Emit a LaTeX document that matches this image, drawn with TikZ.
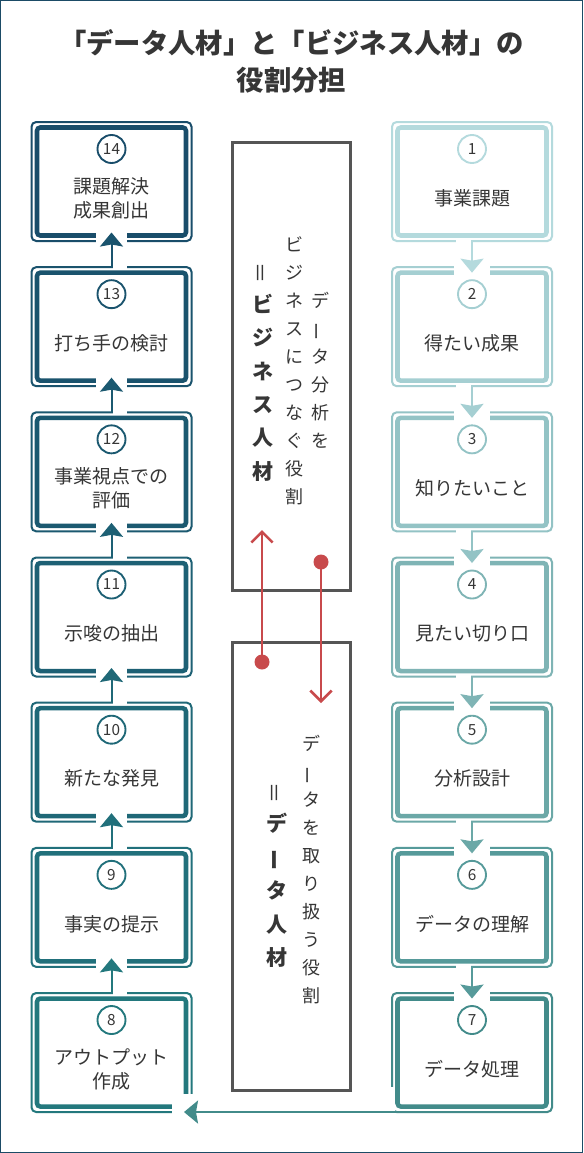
\documentclass[tikz,border=0pt]{standalone}
\usepackage{fontspec}
\setmainfont{Noto Sans CJK JP}
\usetikzlibrary{arrows.meta,calc}
\definecolor{b1}{HTML}{B4DADD}
\definecolor{b2}{HTML}{A5CFD2}
\definecolor{b3}{HTML}{93C3C5}
\definecolor{b4}{HTML}{7FB4B5}
\definecolor{b5}{HTML}{6BA8A7}
\definecolor{b6}{HTML}{569A9A}
\definecolor{b7}{HTML}{428B8A}
\definecolor{b8}{HTML}{23787D}
\definecolor{b9}{HTML}{21707B}
\definecolor{b10}{HTML}{1F6877}
\definecolor{b11}{HTML}{1D6074}
\definecolor{b12}{HTML}{1B5970}
\definecolor{b13}{HTML}{1A536D}
\definecolor{b14}{HTML}{194D6A}
\definecolor{frame}{HTML}{1B4B66}
\definecolor{midgray}{HTML}{555555}
\definecolor{txt}{HTML}{363636}
\definecolor{rd}{HTML}{C84A4C}
\newcommand\vrot[1]{\rotatebox[origin=c]{90}{#1}}
\tikzset{
  outerbox/.style={draw, line width=1.5pt, rounded corners=3.5pt, minimum width=120pt, minimum height=89.25pt, inner sep=0pt, outer sep=0pt},
  innerbox/.style={draw, line width=3.4pt, rounded corners=2.5pt, minimum width=111.75pt, minimum height=81pt, inner sep=0pt, outer sep=0pt},
  numc/.style={circle, line width=1.4pt, fill=white, minimum size=21pt, inner sep=0pt, text=txt, font=\fontsize{11.5pt}{12pt}\selectfont},
  lab/.style={align=center, inner sep=0pt, text=txt, font=\fontsize{14.25pt}{18pt}\selectfont},
  conn/.style={line width=1.5pt, -{Stealth[length=10.5pt,width=17.25pt,inset=1.5pt]}},
  midbox/.style={draw=midgray, line width=2.25pt, minimum width=88.5pt, minimum height=336pt, inner sep=0pt, outer sep=0pt},
  vtxt/.style={align=center, inner sep=0pt, text=txt, font=\fontsize{13.5pt}{21pt}\selectfont},
  vbold/.style={align=center, inner sep=0pt, text=txt, font=\bfseries\fontsize{15.75pt}{25.1pt}\selectfont},
  titletxt/.style={align=center, inner sep=0pt, text=txt, font=\bfseries\fontsize{20.5pt}{27.75pt}\selectfont},
  reddot/.style={circle, fill=rd, minimum size=11.25pt, inner sep=0pt, outer sep=0pt},
  redline/.style={draw=rd, line width=1.9pt, -{Straight Barb[length=8pt,width=16pt]}}
}
\begin{document}
\begin{tikzpicture}[x=0.75pt,y=-0.75pt]
\useasboundingbox (0,0) rectangle (583,1153);
\fill[white] (0,0) rectangle (583,1153);
\draw[frame, line width=0.75pt] (0.5,0.5) rectangle (582.5,1152.5);

\node[titletxt] (title) at (291.5,61.5) {「データ人材」と「ビジネス人材」の\\役割分担};

% right column
\foreach \r/\n/\lab in {1/1/{事業課題},2/2/{得たい成果},3/3/{知りたいこと},4/4/{見たい切り口},5/5/{分析設計},6/6/{データの理解},7/7/{データ処理}}{
  \pgfmathsetmacro\cy{122+145.17*(\r-1)+59.5}
  \node[outerbox, draw=b\n] (o\n) at (472,\cy) {};
  \node[innerbox, draw=b\n] (i\n) at (472,\cy) {};
  \node[numc, draw=b\n] (n\n) at ($(o\n.center)+(0,-32.5)$) {\n};
  \node[lab] (l\n) at ($(o\n.center)+(0,16.5)$) {\lab};
}
% left column
\foreach \r/\n/\lab in {1/14/{課題解決\\成果創出},2/13/{打ち手の検討},3/12/{事業視点での\\評価},4/11/{示唆の抽出},5/10/{新たな発見},6/9/{事実の提示},7/8/{アウトプット\\作成}}{
  \pgfmathsetmacro\cy{122+145.17*(\r-1)+59.5}
  \node[outerbox, draw=b\n] (o\n) at (111.5,\cy) {};
  \node[innerbox, draw=b\n] (i\n) at (111.5,\cy) {};
  \node[numc, draw=b\n] (n\n) at ($(o\n.center)+(0,-32.5)$) {\n};
  \node[lab] (l\n) at ($(o\n.center)+(0,16.5)$) {\lab};
}

% right connectors (downward)
\foreach \a/\b in {1/2,2/3,3/4,4/5,5/6,6/7}{
  \fill[white] ($(o\b.north)+(-18,-2)$) rectangle ($(o\b.north)+(18,9)$);
  \fill[white] ($(o\a.south)+(-16,-2)$) rectangle ($(o\a.south)+(-1,2)$);
  \draw[conn, draw=b\a, fill=b\a] (o\a.south) -- (i\b.north);
}
% left connectors (upward)
\foreach \a/\b in {8/9,9/10,10/11,11/12,12/13,13/14}{
  \fill[white] ($(o\b.south)+(-16,-9)$) rectangle ($(o\b.south)+(15,2)$);
  \fill[white] ($(o\a.north)+(1,-2)$) rectangle ($(o\a.north)+(15,2)$);
  \draw[conn, draw=b\a, fill=b\a] (o\a.north) -- ($(i\b.south)+(0,-3)$);
}
% bottom connector 7 -> 8
\fill[white] ($(o7.south west)+(-4,-25)$) rectangle ($(o7.south west)+(2.5,3)$);
\fill[white] ($(o8.south east)+(-20,-18)$) rectangle ($(o8.south east)+(8,8)$);
\draw[conn, draw=b7, fill=b7] (o7.south) -- ($(i8.east |- o8.south)+(-2,0)$);

% middle boxes
\node[midbox] (mb1) at (291,366) {};
\node[midbox] (mb2) at (291,866) {};

\node[vtxt] (ua) at (320,370) {デ\\\vrot{ー}\\タ\\分\\析\\を};
\node[vtxt] (ub) at (294,371) {ビ\\ジ\\ネ\\ス\\に\\つ\\な\\ぐ\\役\\割};
\node[vbold] (uc) at (263,372) {{\mdseries\vrot{＝}}\\ビ\\ジ\\ネ\\ス\\人\\材};

\node[vtxt] (la) at (311,870) {デ\\\vrot{ー}\\タ\\を\\取\\り\\扱\\う\\役\\割};
\node[vbold] (lb) at (277,875) {{\mdseries\vrot{＝}}\\デ\\\vrot{ー}\\タ\\人\\材};

% red arrows
\node[reddot] (d1) at (262,662) {};
\node[reddot] (d2) at (321,562) {};
\coordinate (t1) at (262,530);
\coordinate (t2) at (321,703);
\draw[redline] (d1.center) -- (t1);
\draw[redline] (d2.center) -- (t2);
\end{tikzpicture}
\end{document}
